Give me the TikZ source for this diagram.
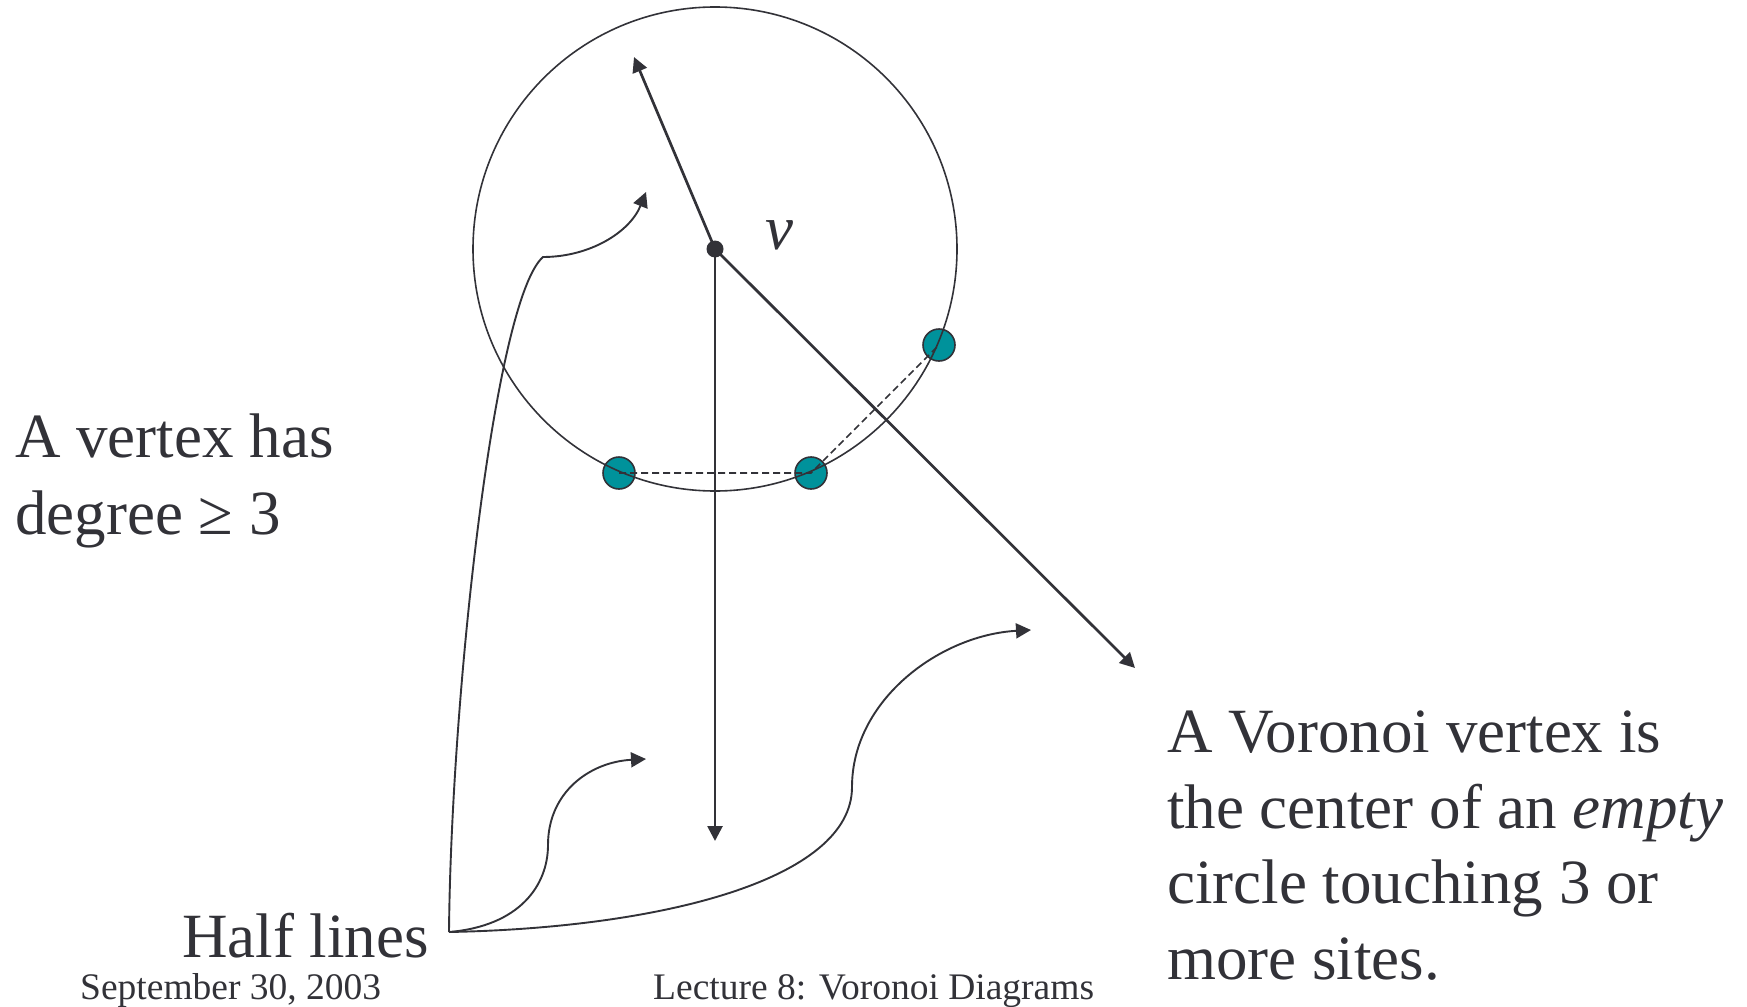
\documentclass[tikz,border=0pt]{standalone}
\usepackage{fontspec}
\setmainfont{Liberation Serif}
\usetikzlibrary{arrows.meta}
\definecolor{ink}{RGB}{50,50,56}
\definecolor{teal}{RGB}{0,146,155}
\tikzset{
  bigtext/.style={anchor=base west, inner sep=0pt, text=ink, font=\fontsize{63}{76}\selectfont},
  foot/.style={anchor=base west, inner sep=0pt, text=ink, font=\fontsize{37.5}{45}\selectfont},
  ray/.style={draw=ink, line width=2.7pt, -{Triangle[length=15pt,width=15pt]}},
  pointer/.style={draw=ink, line width=1.9pt, -{Triangle[length=15pt,width=15pt]}},
  site/.style={circle, draw=ink, line width=1.6pt, fill=teal, minimum size=32pt, inner sep=0pt},
  chord/.style={draw=ink, line width=1.6pt, dash pattern=on 7pt off 4pt},
}
\begin{document}
\begin{tikzpicture}[x=1pt,y=-1pt]
\useasboundingbox (0,0) rectangle (1747,1006);
% vertex and sites
\coordinate (v) at (715,249);
\node[site] (s1) at (619,473) {};
\node[site] (s2) at (811,473) {};
\node[site] (s3) at (939,345) {};
% empty circle
\draw[ink, line width=1.6pt] (v) circle[radius=242];
% dashed chords
\draw[chord] (s1.center) -- (s2.center) -- (s3.center);
% half lines
\coordinate (e1) at (634,57);
\coordinate (e2) at (715,841);
\coordinate (e3) at (1135,668);
\draw[ray] (v) -- (e1);
\draw[ray] (v) -- (e2);
\draw[ray] (v) -- (e3);
\fill[ink] (v) circle[radius=8.5];
\node[bigtext, font=\fontsize{63}{76}\selectfont\itshape] (vlab) at (765,249) {v};
% labels
\node[bigtext] (deg1) at (15,457) {A vertex has};
\node[bigtext] (deg2) at (15,534) {degree ≥ 3};
\node[bigtext] (half) at (182,957) {Half lines};
\node[bigtext] (r1) at (1167,752) {A Voronoi vertex is};
\node[bigtext] (r2) at (1167,828) {the center of an \textit{empty}};
\node[bigtext] (r3) at (1167,903) {circle touching 3 or};
\node[bigtext] (r4) at (1167,979) {more sites.};
\node[foot] (date) at (80,999) {September 30, 2003};
\node[foot] (title) at (653,999) {Lecture 8: Voronoi Diagrams};
% pointers from "Half lines"
\coordinate (h) at (449,932);
\coordinate (k1) at (543,257);
\coordinate (t1) at (646,192);
\coordinate (m2) at (548,845);
\coordinate (t2) at (646,759);
\coordinate (m3) at (852,787);
\coordinate (t3) at (1031,630);
\draw[pointer] (h) .. controls (451,700) and (494,300) .. (k1)
  .. controls (590,257) and (630,232) .. (t1);
\draw[pointer] (h) .. controls (520,926) and (548,885) .. (m2)
  .. controls (548,792) and (590,762) .. (t2);
\draw[pointer] (h) .. controls (660,928) and (852,880) .. (m3)
  .. controls (852,700) and (940,635) .. (t3);
\end{tikzpicture}
\end{document}
